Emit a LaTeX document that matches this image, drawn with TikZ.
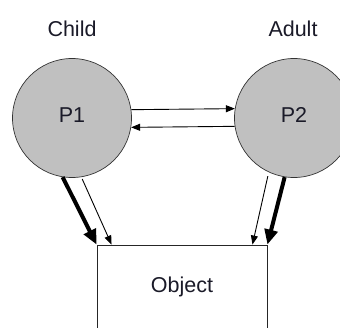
\documentclass[tikz,border=0pt]{standalone}
\usepackage{fontspec}
\setmainfont{Liberation Sans}
\usetikzlibrary{arrows.meta,calc}
\definecolor{inkc}{HTML}{1A1A28}
\definecolor{discgray}{HTML}{C0C0C0}
\begin{document}
\begin{tikzpicture}[x=1pt,y=-1pt,
  every node/.style={font=\fontsize{21.5}{24}\selectfont, text=inkc},
  person/.style={circle, draw=black!80, line width=0.7pt, fill=discgray,
                 minimum size=119pt, inner sep=0pt},
  thing/.style={rectangle, draw=black!85, line width=0.9pt, fill=white,
                minimum width=170pt, minimum height=84pt, inner sep=0pt},
  msg/.style={-{Triangle[length=9pt,width=7pt]}, line width=0.9pt, black},
  strong/.style={-{Triangle[length=15pt,width=13pt]}, line width=4pt, black},
]
\useasboundingbox (0,0) rectangle (340,327);
\clip (0,0) rectangle (340,327);

% the two participants and the shared object
\node[person, label={[yshift=3pt]center:P1}] (P1) at (72,118) {};
\node[person, label={[yshift=3pt]center:P2}] (P2) at (294,118) {};
\node[thing] (obj) at (182,287) {Object};

% role captions
\node[anchor=base] (child) at (72,36) {Child};
\node[anchor=base] (adult) at (293,36) {Adult};

% exchange between P1 and P2
\draw[msg] (P1.8.7) -- (P2.171.3);
\draw[msg] (P2.188.7) -- (P1.351.3);

% both act on the object
\coordinate (objL) at ($(obj.north west)+(15,0)$);
\coordinate (objR) at ($(obj.north east)+(-15,0)$);
\draw[strong] (P1.261.3) -- (obj.north west);
\draw[msg, shorten <=2pt] (P1.279.7) -- (objL);
\draw[msg, shorten <=4pt] (P2.245.2) -- (objR);
\draw[strong] (P2.261.3) -- (obj.north east);
\end{tikzpicture}
\end{document}
